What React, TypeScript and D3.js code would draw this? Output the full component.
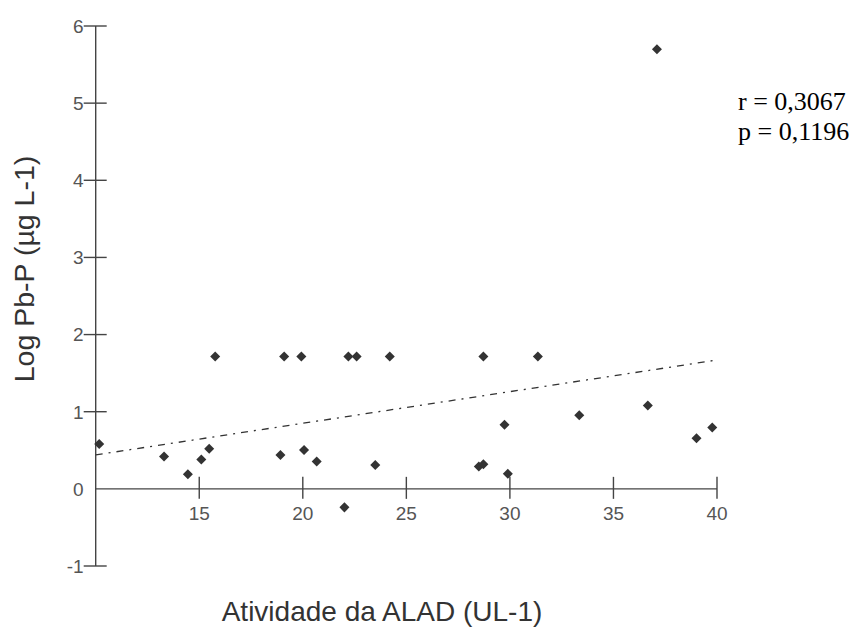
import { useEffect, useRef } from "react";
import * as d3 from "d3";

// atividade da ALAD (UL-1) vs log Pb-P
const alad = [10.17, 13.3, 14.45, 15.1, 15.48, 15.77, 18.92, 19.1, 19.93, 20.06, 20.67, 22.01, 22.2, 22.6, 23.5, 24.2,
  28.5, 28.72, 28.72, 29.74, 29.9, 31.35, 33.35, 36.66, 37.1, 39.01, 39.77];
const logPb = [0.58, 0.42, 0.19, 0.38, 0.52, 1.715, 0.44, 1.715, 1.715, 0.505, 0.355, -0.24, 1.715, 1.715, 0.31, 1.715,
  0.29, 0.32, 1.715, 0.83, 0.195, 1.715, 0.955, 1.08, 5.7, 0.657, 0.795];

const trendX = [10, 40];
const trendY = [0.44, 1.67];

const xTicks = [15, 20, 25, 30, 35, 40];
const yTicks = [-1, 1, 2, 3, 4, 5, 6];
const yLabels = [-1, 0, 1, 2, 3, 4, 5, 6];

const stats = ["r = 0,3067", "p = 0,1196"];

export default function App() {
  const svgRef = useRef<SVGSVGElement>(null);

  useEffect(() => {
    const W = 854, H = 628;
    const svg = d3.select(svgRef.current);
    svg.selectAll("*").remove();

    const x = d3.scaleLinear().domain([10, 40]).range([95.7, 717]);
    const y = d3.scaleLinear().domain([-1, 6]).range([566, 26]);
    const axisCol = "#444";
    const labCol = "#555";
    const sans = "Arial, 'Liberation Sans', sans-serif";

    // y axis
    svg.append("line")
      .attr("x1", x(10)).attr("x2", x(10))
      .attr("y1", y(-1)).attr("y2", y(6))
      .attr("stroke", axisCol).attr("stroke-width", 1.4);
    svg.append("g").selectAll("line").data(yTicks).join("line")
      .attr("x1", x(10) - 12).attr("x2", x(10) + 11)
      .attr("y1", d => y(d)).attr("y2", d => y(d))
      .attr("stroke", axisCol).attr("stroke-width", 1.4);
    svg.append("g").selectAll("text").data(yLabels).join("text")
      .attr("x", x(10) - 12).attr("y", d => y(d))
      .attr("dy", "0.36em")
      .attr("text-anchor", "end")
      .attr("font-family", sans).attr("font-size", 19)
      .attr("fill", labCol)
      .text(d => d);

    // x axis along y = 0
    svg.append("line")
      .attr("x1", x(10)).attr("x2", x(40))
      .attr("y1", y(0)).attr("y2", y(0))
      .attr("stroke", axisCol).attr("stroke-width", 1.4);
    svg.append("g").selectAll("line").data(xTicks).join("line")
      .attr("x1", d => x(d)).attr("x2", d => x(d))
      .attr("y1", y(0) - 12).attr("y2", y(0) + 10)
      .attr("stroke", axisCol).attr("stroke-width", 1.4);
    svg.append("g").selectAll("text").data(xTicks).join("text")
      .attr("x", d => x(d)).attr("y", y(0) + 31)
      .attr("text-anchor", "middle")
      .attr("font-family", sans).attr("font-size", 19)
      .attr("fill", labCol)
      .text(d => d);

    // trend line
    const line = d3.line<number>().x(d => x(trendX[d])).y(d => y(trendY[d]));
    svg.append("path")
      .datum([0, 1])
      .attr("d", line)
      .attr("fill", "none")
      .attr("stroke", "#333")
      .attr("stroke-width", 1.3)
      .attr("stroke-dasharray", "7,6,2,6");

    // points
    svg.append("g").selectAll("path").data(alad).join("path")
      .attr("d", d3.symbol(d3.symbolDiamond2, 64))
      .attr("transform", (d, i) => `translate(${x(d)},${y(logPb[i])})`)
      .attr("fill", "#333");

    // axis titles
    svg.append("text")
      .attr("x", 382).attr("y", 621)
      .attr("text-anchor", "middle")
      .attr("font-family", sans).attr("font-size", 28)
      .attr("fill", "#333")
      .text("Atividade da ALAD (UL-1)");
    svg.append("text")
      .attr("transform", "translate(34,269) rotate(-90)")
      .attr("text-anchor", "middle")
      .attr("font-family", sans).attr("font-size", 28.5)
      .attr("fill", "#333")
      .text("Log Pb-P (µg L-1)");

    // stats
    svg.append("g").selectAll("text").data(stats).join("text")
      .attr("x", 738).attr("y", (d, i) => 110 + i * 30)
      .attr("font-family", "'Times New Roman', 'Liberation Serif', serif")
      .attr("font-size", 26)
      .attr("fill", "#000")
      .text(d => d);

    svg.attr("width", W).attr("height", H);
  }, []);

  return (
    <div style={{ position: "absolute", left: 0, top: 0, background: "#fff" }}>
      <svg ref={svgRef} width={854} height={628} style={{ display: "block" }} />
    </div>
  );
}
